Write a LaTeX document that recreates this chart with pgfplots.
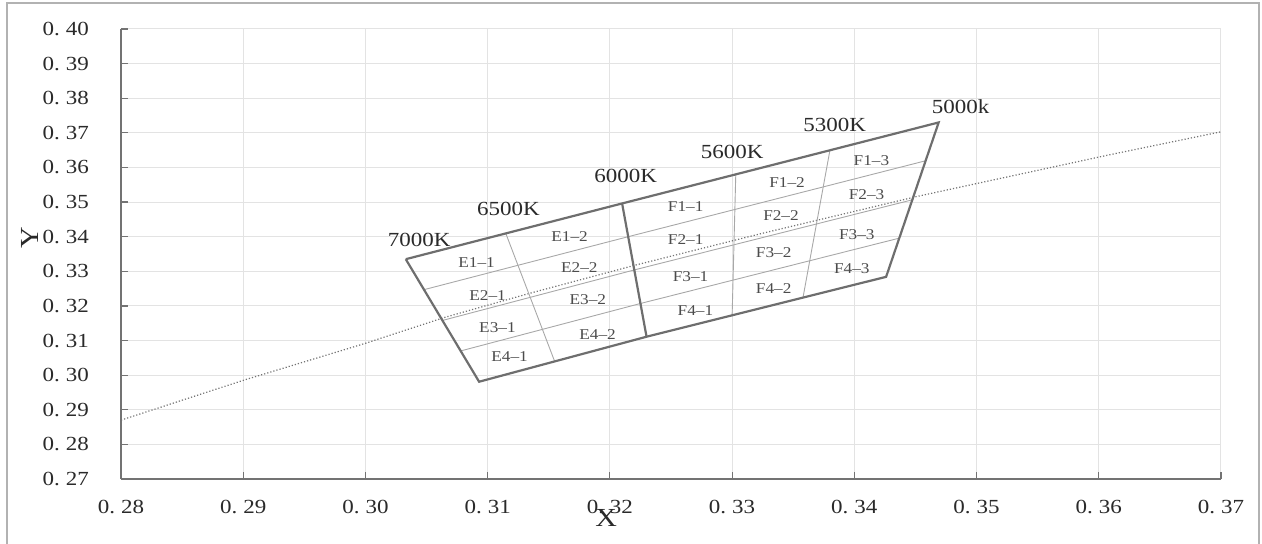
\documentclass[border=0pt]{standalone}
\usepackage{pgfplots}
\pgfplotsset{compat=1.18}
\usepackage{fontspec}
\setmainfont[FakeStretch=1.15]{Liberation Serif}
\definecolor{edge}{HTML}{6E6E6E}
\definecolor{inner}{HTML}{A8A8A8}
\definecolor{txt}{HTML}{2A2A2A}
\newcommand\tl[1]{0.\hspace{0.3em}#1}
\begin{document}
\begin{tikzpicture}[x=1pt,y=1pt]
\useasboundingbox (-60.5,-32.5) rectangle (570.5,239.5);
\draw[color=black!30, line width=0.7pt] (-57,-33) -- (-57,238) -- (569,238) -- (569,-33);
\begin{axis}[
  scale only axis, width=550pt, height=225pt,
  at={(0pt,0pt)}, anchor=south west,
  xmin=0.28, xmax=0.37, ymin=0.27, ymax=0.40,
  axis lines=left, axis line style={-, color=black!55, line width=0.8pt},
  tick align=inside, major tick length=3.5pt,
  tick style={color=black!55, line width=0.6pt},
  grid=major, major grid style={color=black!11, line width=0.5pt},
  xtick={0.28,0.29,0.30,0.31,0.32,0.33,0.34,0.35,0.36,0.37},
  xticklabels={\tl{28},\tl{29},\tl{30},\tl{31},\tl{32},\tl{33},\tl{34},\tl{35},\tl{36},\tl{37}},
  ytick={0.27,0.28,0.29,0.30,0.31,0.32,0.33,0.34,0.35,0.36,0.37,0.38,0.39,0.40},
  yticklabels={\tl{27},\tl{28},\tl{29},\tl{30},\tl{31},\tl{32},\tl{33},\tl{34},\tl{35},\tl{36},\tl{37},\tl{38},\tl{39},\tl{40}},
  xticklabel style={anchor=center, yshift=-14pt, font=\fontsize{10}{11}\selectfont, text=txt},
  yticklabel style={anchor=east, xshift=-12.5pt, font=\fontsize{10}{11}\selectfont, text=txt},
  xlabel={X}, ylabel={Y},
  xlabel style={at={(axis description cs:0.441,-0.0867)}, anchor=center, font=\fontsize{13}{14}\selectfont, text=txt},
  ylabel style={at={(axis description cs:-0.0827,0.536)}, anchor=center, rotate=0, font=\fontsize{13}{14}\selectfont, text=txt},
]
% Planckian locus (dotted)
\addplot[densely dotted, color=black!55, line width=0.6pt] coordinates {
 (0.2800,0.2870) (0.2900,0.2985) (0.3000,0.3092) (0.3064,0.3166) (0.3135,0.3237)
 (0.3221,0.3318) (0.3325,0.3410) (0.3451,0.3516) (0.3608,0.3636) (0.3700,0.3703)};
% inner row lines
\addplot[color=inner, line width=0.45pt] coordinates {(0.3048,0.3247) (0.3215,0.3400) (0.3458,0.3619)};
\addplot[color=inner, line width=0.45pt] coordinates {(0.3063,0.3158) (0.3220,0.3304) (0.3448,0.3507)};
\addplot[color=inner, line width=0.45pt] coordinates {(0.3078,0.3070) (0.3225,0.3207) (0.3437,0.3396)};
% inner column lines
\addplot[color=inner, line width=0.45pt] coordinates {(0.3115,0.3408) (0.3155,0.3038)};
\addplot[color=inner, line width=0.45pt] coordinates {(0.3303,0.3580) (0.3300,0.3170)};
\addplot[color=inner, line width=0.45pt] coordinates {(0.3380,0.3649) (0.3358,0.3224)};
% outline
\addplot[color=edge, line width=1.1pt] coordinates {
 (0.3033,0.3335) (0.3210,0.3496) (0.3469,0.3730) (0.3426,0.3284) (0.3230,0.3111) (0.3093,0.2981) (0.3033,0.3335)};
% 6000K divider
\addplot[color=edge, line width=1.1pt] coordinates {(0.3210,0.3496) (0.3230,0.3111)};
% CCT labels
\begin{scope}[every node/.style={font=\fontsize{10}{11}\selectfont, text=txt}]
\node at (axis cs:0.3044,0.3390) {7000K};
\node at (axis cs:0.3117,0.3481) {6500K};
\node at (axis cs:0.3213,0.3575) {6000K};
\node at (axis cs:0.3300,0.3645) {5600K};
\node at (axis cs:0.3384,0.3723) {5300K};
\node at (axis cs:0.3487,0.3775) {5000k};
\end{scope}
% cell labels
\begin{scope}[every node/.style={font=\fontsize{7.5}{8}\selectfont, text=black!70}]
\node at (axis cs:0.3091,0.3325) {E1--1};
\node at (axis cs:0.3167,0.3400) {E1--2};
\node at (axis cs:0.3100,0.3231) {E2--1};
\node at (axis cs:0.3175,0.3311) {E2--2};
\node at (axis cs:0.3108,0.3138) {E3--1};
\node at (axis cs:0.3182,0.3217) {E3--2};
\node at (axis cs:0.3118,0.3053) {E4--1};
\node at (axis cs:0.3190,0.3116) {E4--2};
\node at (axis cs:0.3262,0.3488) {F1--1};
\node at (axis cs:0.3262,0.3393) {F2--1};
\node at (axis cs:0.3266,0.3286) {F3--1};
\node at (axis cs:0.3270,0.3188) {F4--1};
\node at (axis cs:0.3345,0.3557) {F1--2};
\node at (axis cs:0.3340,0.3460) {F2--2};
\node at (axis cs:0.3334,0.3353) {F3--2};
\node at (axis cs:0.3334,0.3249) {F4--2};
\node at (axis cs:0.3414,0.3620) {F1--3};
\node at (axis cs:0.3410,0.3523) {F2--3};
\node at (axis cs:0.3402,0.3405) {F3--3};
\node at (axis cs:0.3398,0.3308) {F4--3};
\end{scope}
\end{axis}
\end{tikzpicture}
\end{document}
